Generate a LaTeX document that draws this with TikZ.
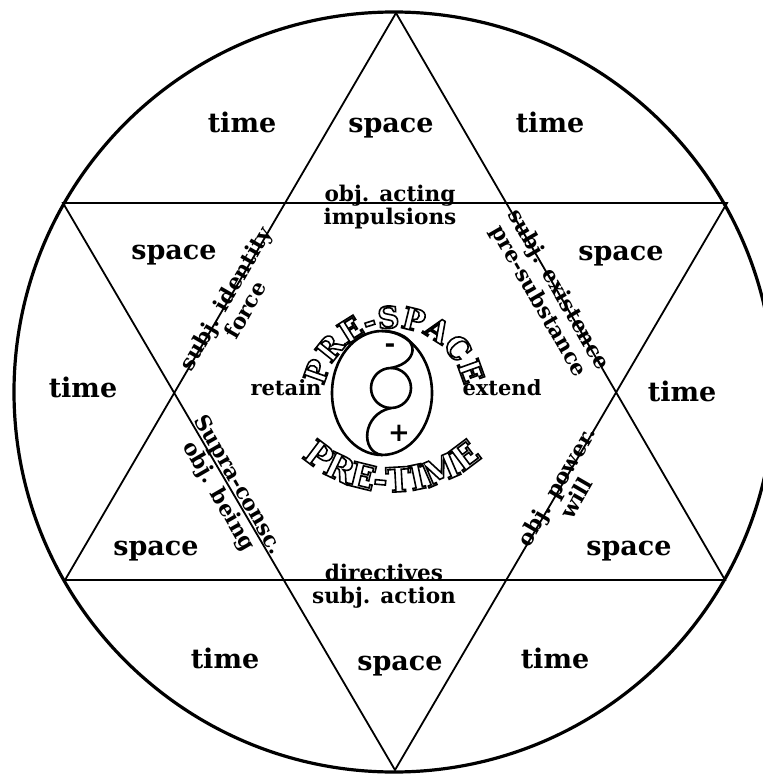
\documentclass[tikz,border=0pt]{standalone}
\usepackage{fontspec}
\setmainfont{DejaVu Serif}
\usepackage{tikz}
\usetikzlibrary{decorations.text}

% hollow letters for the curved titles
\newcommand{\hollow}{\special{pdf:literal direct 0.8 w 1 Tr}}

\begin{document}
\begin{tikzpicture}[
        x=0.5pt, y=-0.5pt,
        % --- TikZ Styles ---
        bigword/.style={font=\fontsize{13.5}{14}\selectfont\bfseries, inner sep=0pt, anchor=base},
        linelabel/.style={font=\fontsize{10.8}{11.5}\selectfont\bfseries, align=center, inner sep=0pt},
        sideword/.style={font=\fontsize{10.5}{11}\selectfont\bfseries, inner sep=0pt, anchor=base},
        signword/.style={font=\fontsize{13}{13}\selectfont\bfseries, inner sep=0pt},
        ring/.style={line width=1.6pt},
        starline/.style={line width=0.9pt},
        coreline/.style={line width=1.3pt}
    ]

    \path[use as bounding box] (0,0) rectangle (763,774);
    \fill[white] (0,0) rectangle (763,774);
    \clip (0,0) rectangle (763,774);

    % --- 1. RING AND STAR ---
    \coordinate (centre) at (394,392);
    \draw[ring] (centre) circle[radius=380];

    \coordinate (vtop) at (396,13);
    \coordinate (vbot) at (395,770);
    \coordinate (vul) at (63,203);
    \coordinate (vur) at (727,203);
    \coordinate (vll) at (65,580);
    \coordinate (vlr) at (725,580);
    \draw[starline] (vtop) -- (vll) -- (vlr) -- cycle;
    \draw[starline] (vul) -- (vur) -- (vbot) -- cycle;

    % --- 2. TIME / SPACE FIELDS ---
    \node[bigword] (timeA) at (242,133) {time};
    \node[bigword] (spaceA) at (391,133) {space};
    \node[bigword] (timeB) at (550,133) {time};
    \node[bigword] (spaceB) at (174,260) {space};
    \node[bigword] (spaceC) at (621,261) {space};
    \node[bigword] (timeC) at (83,397) {time};
    \node[bigword] (timeD) at (682,401) {time};
    \node[bigword] (spaceD) at (156,555) {space};
    \node[bigword] (spaceE) at (629,555) {space};
    \node[bigword] (timeE) at (225,668) {time};
    \node[bigword] (spaceF) at (400,670) {space};
    \node[bigword] (timeF) at (555,668) {time};

    % --- 3. LABELS ON THE STAR LINES ---
    \node[linelabel] (acting) at (390,207) {obj. acting\\impulsions};
    \node[linelabel] (directives) at (384,586) {directives\\subj. action};
    \node[linelabel, rotate=60] (identity) at (235,304) {subj. identity\\force};
    \node[linelabel, rotate=-60] (existence) at (548,296) {subj. existence\\pre-substance};
    \node[linelabel, rotate=-60] (supra) at (228,491) {Supra-consc.\\obj. being};
    \node[linelabel, rotate=60] (power) at (566,492) {obj. power.\\will};

    % --- 4. CORE ---
    \coordinate (core) at (382,393);
    \coordinate (seed) at (391,388);
    \draw[coreline] (core) ellipse[x radius=50, y radius=62];
    \draw[coreline] (seed) circle[radius=20];
    \draw[coreline] (382,331) .. controls (420,332) and (422,362) .. (391,368);
    \draw[coreline] (391,408) .. controls (362,414) and (360,452) .. (382,455);

    \node[signword] (minus) at (390,348) {-};
    \node[signword] (plus) at (399,433) {+};
    \node[sideword] (retain) at (286,395) {retain};
    \node[sideword] (extend) at (502,395) {extend};

    % --- 5. CURVED TITLES ---
    \coordinate (topc) at (394,399);
    \coordinate (botc) at (392,358);
    \path[decorate, decoration={text along path, text align=center,
        text={|\fontsize{15}{15}\selectfont\bfseries\hollow|PRE-SPACE}}]
        ([shift={(180:71)}]topc) arc[start angle=180, end angle=360, radius=71];
    \path[decorate, decoration={text along path, text align=center,
        text={|\fontsize{17}{17}\selectfont\bfseries\hollow|PRE-TIME}}]
        ([shift={(145:134)}]botc) arc[start angle=145, end angle=35, radius=134];

\end{tikzpicture}
\end{document}
